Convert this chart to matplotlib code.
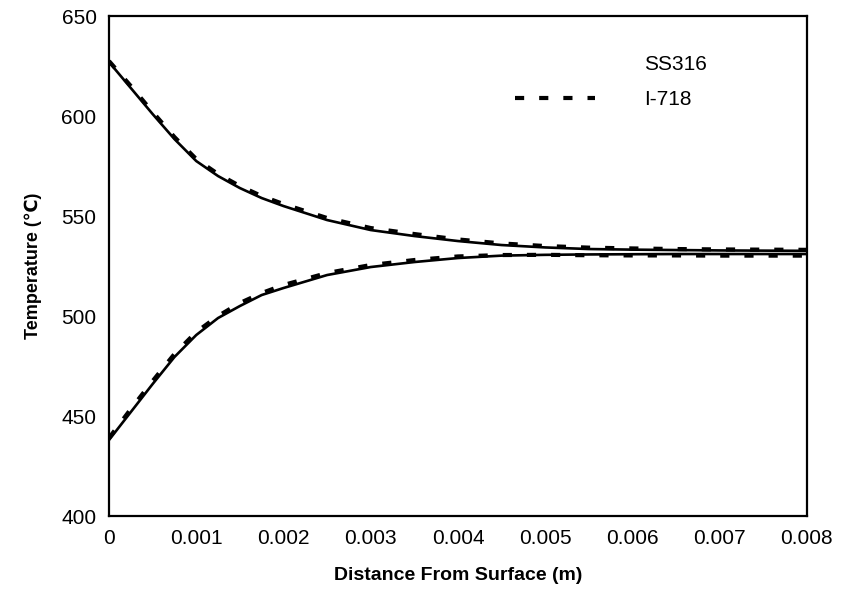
import matplotlib
matplotlib.use("Agg")
import matplotlib.pyplot as plt

plt.rcParams['font.family'] = ['Liberation Sans', 'DejaVu Sans']

# Distance from surface (m)
x = [0, 0.00025, 0.0005, 0.00075, 0.001, 0.00125, 0.0015, 0.00175, 0.002,
     0.0025, 0.003, 0.0035, 0.004, 0.0045, 0.005, 0.0055, 0.006, 0.0065,
     0.007, 0.0075, 0.008]

# SS316 (solid) - upper and lower branches
ss316_upper = [627, 614, 601, 588.5, 577.5, 570, 564, 559, 555, 548, 543, 540,
               537.5, 535.5, 534.3, 533.5, 533.2, 533.0, 532.8, 532.7, 532.6]
ss316_lower = [438, 452, 466, 479.5, 490.5, 499, 505, 510.5, 514, 520.5, 524.5,
               527, 529, 530.2, 530.6, 530.8, 530.9, 531.0, 531.0, 531.0, 531.0]

# I-718 (dashed) - upper and lower branches
i718_upper = [627.5, 615, 602, 589.5, 578.5, 571, 565, 560, 556, 549, 544, 541,
              538.3, 536.3, 535, 534.2, 533.8, 533.5, 533.3, 533.2, 533.1]
i718_lower = [439, 453.5, 467.5, 481, 492, 500, 506.5, 511.5, 515.5, 521.5,
              525.5, 528, 529.8, 530.5, 530.6, 530.4, 530.3, 530.3, 530.2, 530.2, 530.2]

xticks = [0, 0.001, 0.002, 0.003, 0.004, 0.005, 0.006, 0.007, 0.008]
xtick_labels = ['0', '0.001', '0.002', '0.003', '0.004', '0.005', '0.006', '0.007', '0.008']
yticks = [400, 450, 500, 550, 600, 650]

fig = plt.figure(figsize=(8.49, 6.06), dpi=100)
ax = fig.add_axes([0.1284, 0.1485, 0.822, 0.825])

l1, = ax.plot(x, ss316_upper, color='black', lw=1.9, label='SS316')
ax.plot(x, ss316_lower, color='black', lw=1.9)
dash = (0, (2.2, 3.6))
l2, = ax.plot(x, i718_upper, color='black', lw=3.0, linestyle=dash, label='I-718')
ax.plot(x, i718_lower, color='black', lw=3.0, linestyle=dash)

ax.set_xlim(0, 0.008)
ax.set_ylim(400, 650)
ax.set_xticks(xticks)
ax.set_xticklabels(xtick_labels)
ax.set_yticks(yticks)
ax.tick_params(length=0, labelsize=15, pad=9)
for s in ax.spines.values():
    s.set_linewidth(1.6)
    s.set_color('black')

ax.set_xlabel('Distance From Surface (m)', fontsize=14, fontweight='bold', labelpad=14)
ax.set_ylabel('Temperature (℃)', fontsize=13, fontweight='bold', labelpad=14)

leg = ax.legend(handles=[l1, l2], loc='upper left', bbox_to_anchor=(0.555, 0.96),
                frameon=False, fontsize=15, handlelength=3.85, handletextpad=2.35,
                labelspacing=0.8)
leg.legend_handles[0].set_visible(False)

fig.savefig('out.png', dpi=100)
